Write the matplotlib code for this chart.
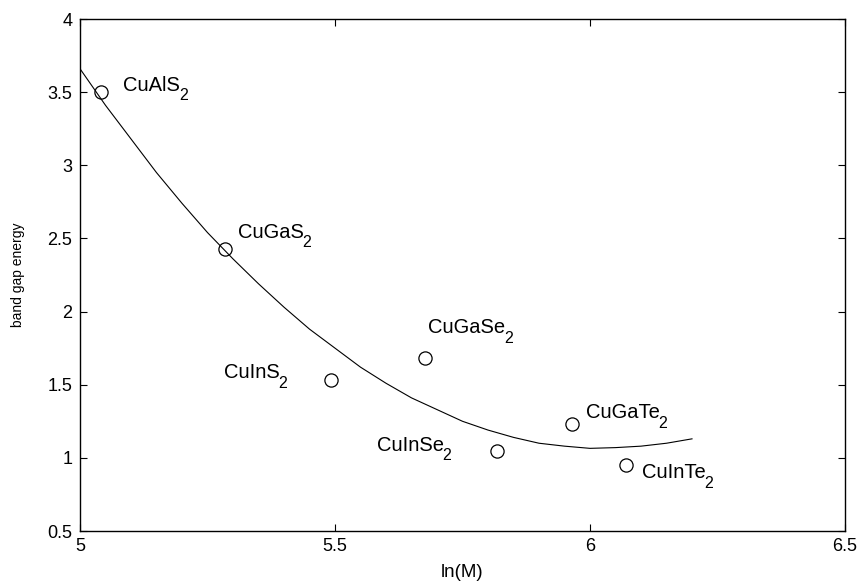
import matplotlib
matplotlib.use("Agg")
import matplotlib.pyplot as plt

plt.rcParams['font.family'] = ['Liberation Sans', 'DejaVu Sans']

# Data points (ln of molar mass, band gap energy)
compounds = ["CuAlS", "CuGaS", "CuInS", "CuGaSe", "CuInSe", "CuGaTe", "CuInTe"]
subscripts = ["2", "2", "2", "2", "2", "2", "2"]
ln_m = [5.042, 5.284, 5.493, 5.676, 5.818, 5.964, 6.071]
gap = [3.50, 2.43, 1.53, 1.68, 1.047, 1.232, 0.952]

# Label anchor positions (left edge, baseline) in data coords
label_x = [5.085, 5.310, 5.282, 5.683, 5.582, 5.992, 6.101]
label_y = [3.51, 2.505, 1.544, 1.852, 1.049, 1.271, 0.863]

# Fitted curve
fit_x = [5.00, 5.05, 5.10, 5.15, 5.20, 5.25, 5.30, 5.35, 5.40, 5.45, 5.50,
         5.55, 5.60, 5.65, 5.70, 5.75, 5.80, 5.85, 5.90, 5.95, 6.00, 6.05,
         6.10, 6.15, 6.20]
fit_y = [3.66, 3.41, 3.18, 2.95, 2.74, 2.54, 2.36, 2.19, 2.03, 1.88, 1.75,
         1.62, 1.51, 1.41, 1.33, 1.25, 1.19, 1.14, 1.10, 1.08, 1.065, 1.07,
         1.08, 1.10, 1.13]

x_ticks = [5, 5.5, 6, 6.5]
x_tick_labels = ["5", "5.5", "6", "6.5"]
y_ticks = [0.5, 1, 1.5, 2, 2.5, 3, 3.5, 4]
y_tick_labels = ["0.5", "1", "1.5", "2", "2.5", "3", "3.5", "4"]

fig = plt.figure(figsize=(8.63, 5.83), dpi=100)
ax = fig.add_axes([80 / 863, 1 - 531 / 583, (845 - 80) / 863, (531 - 19) / 583])

ax.plot(fit_x, fit_y, color='black', linewidth=0.8)
ax.plot(ln_m, gap, linestyle='none', marker='o', markersize=9.5,
        markerfacecolor='none', markeredgecolor='black', markeredgewidth=0.9)

for name, sub, lx, ly in zip(compounds, subscripts, label_x, label_y):
    t = ax.text(lx, ly, name, fontsize=14.5, ha='left', va='baseline')
    ax.annotate(sub, xy=(1, 0), xycoords=t, xytext=(-1.0, 4.5),
                textcoords='offset points', fontsize=11.5, ha='left', va='top')

ax.set_xlim(5, 6.5)
ax.set_ylim(0.5, 4)
ax.set_xticks(x_ticks)
ax.set_xticklabels(x_tick_labels)
ax.set_yticks(y_ticks)
ax.set_yticklabels(y_tick_labels)
ax.tick_params(direction='in', length=5, width=0.8, labelsize=13,
               top=True, right=True)
ax.tick_params(axis='y', pad=5.5)
ax.tick_params(axis='x', pad=5)
for s in ax.spines.values():
    s.set_linewidth(1.0)

ax.set_xlabel("ln(M)", fontsize=13.5, labelpad=6.5)
ax.set_ylabel("band gap energy", fontsize=10, labelpad=16)

fig.savefig("out.png", dpi=100)
